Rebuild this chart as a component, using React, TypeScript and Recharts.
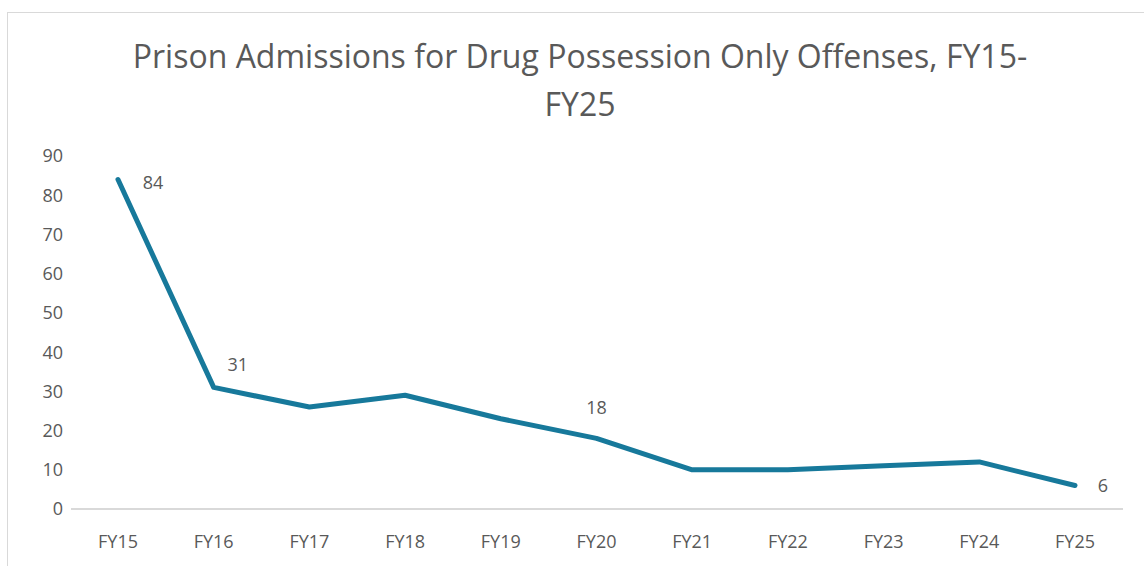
import React from 'react';
import { LineChart, Line, XAxis, YAxis, LabelList } from 'recharts';

// Fiscal years and admissions counts
const years = ['FY15', 'FY16', 'FY17', 'FY18', 'FY19', 'FY20', 'FY21', 'FY22', 'FY23', 'FY24', 'FY25'];
const admissions = [84, 31, 26, 29, 23, 18, 10, 10, 11, 12, 6];
const yTicks = [0, 10, 20, 30, 40, 50, 60, 70, 80, 90];
// only some points carry a value label
const labeledYears = ['FY15', 'FY16', 'FY20', 'FY25'];

const data = years.map((year, i) => ({ year, admissions: admissions[i] }));

const FONT = '"Open Sans", sans-serif';
const GRAY = '#595959';
const LINE = '#17799b';

// where each label sits relative to its point
const labelPlace: Record<string, { dx: number; dy: number }> = {
  FY15: { dx: 35, dy: 9 },
  FY16: { dx: 24, dy: -16 },
  FY20: { dx: 0, dy: -24 },
  FY25: { dx: 28, dy: 7 },
};

const PointLabel = (props: any) => {
  const { x, y, value, index } = props;
  const year = years[index];
  if (!labeledYears.includes(year)) return null;
  const p = labelPlace[year];
  return (
    <text x={x + p.dx} y={y + p.dy} textAnchor="middle" fill={GRAY} fontSize={18} fontFamily={FONT}>
      {value}
    </text>
  );
};

const App: React.FC = () => {
  return (
    <div style={{ position: 'absolute', left: 0, top: 0, width: 1144, height: 566, background: '#fff' }}>
      <div
        style={{
          position: 'absolute',
          left: 7,
          top: 12,
          width: 1150,
          height: 570,
          border: '1px solid #d9d9d9',
          boxSizing: 'border-box',
        }}
      />
      <div
        style={{
          position: 'absolute',
          left: 0,
          top: 32,
          width: 1160,
          textAlign: 'center',
          fontFamily: FONT,
          fontSize: 32,
          lineHeight: '48px',
          color: GRAY,
        }}
      >
        Prison Admissions for Drug Possession Only Offenses, FY15-
        <br />
        FY25
      </div>
      <div style={{ position: 'absolute', left: 0, top: 0 }}>
        <LineChart width={1144} height={566} data={data} margin={{ top: 156, right: 21, bottom: 17, left: 11 }}>
          <XAxis
            dataKey="year"
            axisLine={{ stroke: '#d9d9d9', strokeWidth: 2 }}
            tickLine={false}
            height={40}
            padding={{ left: 47, right: 48 }}
            tick={{ fill: GRAY, fontSize: 18, fontFamily: FONT }}
            tickMargin={20}
            interval={0}
          />
          <YAxis
            domain={[0, 90]}
            ticks={yTicks}
            axisLine={false}
            tickLine={false}
            width={60}
            tick={{ fill: GRAY, fontSize: 18, fontFamily: FONT, textAnchor: 'end' }}
            tickMargin={2}
          />
          <Line
            type="linear"
            dataKey="admissions"
            stroke={LINE}
            strokeWidth={5}
            dot={false}
            strokeLinecap="round"
            strokeLinejoin="round"
            isAnimationActive={false}
          >
            <LabelList dataKey="admissions" content={PointLabel} />
          </Line>
        </LineChart>
      </div>
    </div>
  );
};

export default App;
